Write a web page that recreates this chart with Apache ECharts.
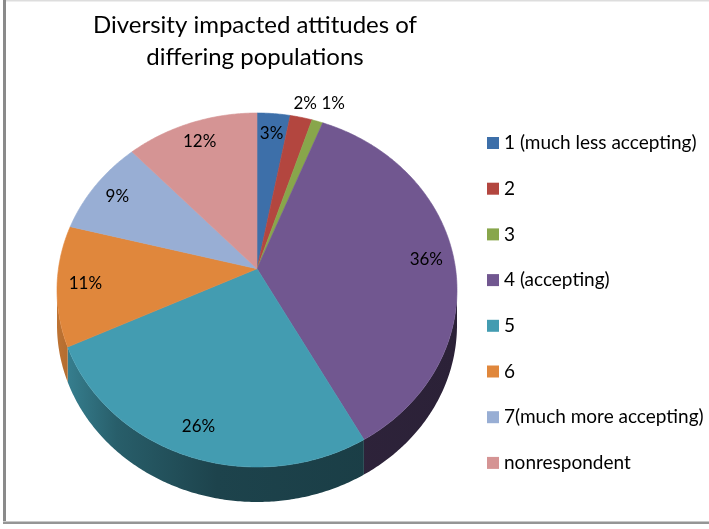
<!DOCTYPE html>
<html>
<head>
<meta charset="utf-8">
<script src="https://cdn.jsdelivr.net/npm/echarts@6/dist/echarts.min.js"></script>
<style>
  html, body { margin: 0; padding: 0; background: #ffffff; }
  #chart { width: 709px; height: 529px; }
</style>
</head>
<body>
<div id="chart"></div>
<script>
// Survey answers: share of respondents per rating
const categories = [
  '1 (much less accepting)',
  '2',
  '3',
  '4 (accepting)',
  '5',
  '6',
  '7(much more accepting)',
  'nonrespondent'
];
const percents = [3, 2, 1, 36, 26, 11, 9, 12];
const sliceColors = ['#3d6fa9', '#b3463f', '#88a64b', '#715790', '#439cb1', '#e0873c', '#98aed4', '#d59494'];
const titleLines = ['Diversity impacted attitudes of', 'differing populations'];

// Outline of the tilted pie on screen, plus a perspective factor that
// squeezes the far rim and stretches the near rim
const pie = { cx: 257, cy: 290, rx: 200, ry: 177, depth: 35, persp: 0.12 };
const FONT = 'Lato, "Open Sans", sans-serif';

const total = percents.reduce((a, b) => a + b, 0);
const starts = [];
let acc = 0;
percents.forEach(v => { starts.push(acc); acc += v; });
const toAngle = v => v / total * Math.PI * 2;

// projective map of the unit disc onto the screen ellipse
function project(u, v) {
  const b = pie.persp;
  const s = Math.sqrt(1 - b * b);
  const d = 1 + b * v;
  return [pie.cx + pie.rx * u * s / d, pie.cy - pie.ry * (v + b) / d];
}
// angle measured clockwise from 12 o'clock on the disc, k = radius fraction
function pt(a, dy, k) {
  dy = dy || 0; k = k == null ? 1 : k;
  const p = project(k * Math.sin(a), k * Math.cos(a));
  return [p[0], p[1] + dy];
}
function arc(a0, a1, dy) {
  const n = Math.max(2, Math.ceil((a1 - a0) / 0.01));
  const out = [];
  for (let j = 0; j <= n; j++) out.push(pt(a0 + (a1 - a0) * j / n, dy));
  return out;
}
function shade(hex, f) {
  const n = parseInt(hex.slice(1), 16);
  const r = Math.round(((n >> 16) & 255) * f);
  const g = Math.round(((n >> 8) & 255) * f);
  const b = Math.round((n & 255) * f);
  return 'rgb(' + r + ',' + g + ',' + b + ')';
}

// label anchors: inside the slice, or just past the rim for thin slices
const labelPos = percents.map((v, i) => {
  const mid = toAngle(starts[i] + v / 2);
  const outside = v <= 2;
  const p = pt(mid, 0, outside ? 1.1 : 0.86);
  return { x: p[0], y: p[1], outside: outside };
});
const outs = labelPos.filter(l => l.outside).sort((a, b) => a.x - b.x);
for (let j = 1; j < outs.length; j++) {
  const gap = 28;
  if (outs[j].x - outs[j - 1].x < gap) outs[j].x = outs[j - 1].x + gap;
}
if (outs.length) {
  const yTop = Math.min.apply(null, outs.map(l => l.y));
  outs.forEach(l => { l.y = yTop; });
}

// the rim faces the viewer between these two disc angles
const frontStart = Math.acos(-pie.persp);
const frontEnd = Math.PI * 2 - frontStart;

function renderSlice(i) {
  return function (params, api) {
    const v = api.value(0);
    const a0 = toAngle(starts[i]);
    const a1 = a0 + toAngle(v);
    const color = sliceColors[i];
    const children = [];
    const f0 = Math.max(a0, frontStart);
    const f1 = Math.min(a1, frontEnd);
    if (f1 > f0) {
      const top = arc(f0, f1, 0);
      const bottom = arc(f0, f1, pie.depth).reverse();
      children.push({
        type: 'polygon',
        z2: 0,
        shape: { points: top.concat(bottom) },
        style: {
          fill: new echarts.graphic.LinearGradient(pie.cx - pie.rx, 0, pie.cx + pie.rx, 0, [
            { offset: 0, color: shade(color, 0.85) },
            { offset: 0.15, color: shade(color, 0.6) },
            { offset: 0.4, color: shade(color, 0.43) },
            { offset: 1, color: shade(color, 0.38) }
          ], true),
          stroke: null
        }
      });
    }
    children.push({
      type: 'polygon',
      z2: 1,
      shape: { points: [pt(0, 0, 0)].concat(arc(a0, a1, 0)) },
      style: { fill: color, stroke: color, lineWidth: 0.6, lineJoin: 'round' }
    });
    const lp = labelPos[i];
    children.push({
      type: 'text',
      z2: 5,
      style: {
        text: v + '%',
        x: lp.x,
        y: lp.y,
        align: 'center',
        verticalAlign: 'middle',
        fontFamily: FONT,
        fontSize: 17,
        fill: '#000000'
      }
    });
    return { type: 'group', children: children };
  };
}

const chart = echarts.init(document.getElementById('chart'));
chart.setOption({
  animation: false,
  backgroundColor: '#ffffff',
  legend: {
    orient: 'vertical',
    left: 482,
    top: 128,
    icon: 'rect',
    itemWidth: 12,
    itemHeight: 12,
    itemGap: 25.7,
    selectedMode: false,
    data: categories,
    textStyle: { fontFamily: FONT, fontSize: 19, color: '#000000', lineHeight: 20 }
  },
  graphic: [
    { type: 'rect', shape: { x: 3, y: 0, width: 3, height: 524 }, style: { fill: '#8a8a8a' }, silent: true },
    { type: 'rect', shape: { x: 6, y: 0, width: 703, height: 1.5 }, style: { fill: '#dddddd' }, silent: true },
    { type: 'rect', shape: { x: 3, y: 521, width: 706, height: 1 }, style: { fill: '#c8c8c8' }, silent: true },
    { type: 'rect', shape: { x: 3, y: 522, width: 706, height: 2 }, style: { fill: '#959595' }, silent: true },
    {
      type: 'text',
      x: 255,
      y: 9,
      silent: true,
      style: {
        text: titleLines.join('\n'),
        align: 'center',
        verticalAlign: 'top',
        fontFamily: FONT,
        fontSize: 24,
        lineHeight: 32,
        fill: '#000000'
      }
    }
  ],
  series: categories.map((name, i) => ({
    type: 'custom',
    name: name,
    coordinateSystem: 'none',
    silent: true,
    itemStyle: { color: sliceColors[i] },
    renderItem: renderSlice(i),
    data: [[percents[i]]]
  }))
});
</script>
</body>
</html>
